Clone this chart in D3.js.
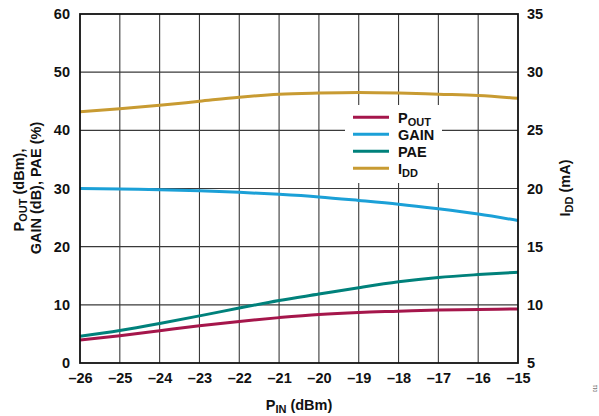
<!DOCTYPE html>
<html><head><meta charset="utf-8">
<script src="https://cdn.jsdelivr.net/npm/d3@7"></script>
<style>html,body{margin:0;padding:0;background:#fff;} svg{display:block;font-family:"Liberation Sans",Arial,sans-serif;font-weight:bold;}</style>
</head><body><svg id="c" width="599" height="416"></svg>
<script>
const pin = [-26,-25,-24,-23,-22,-21,-20,-19,-18,-17,-16,-15];
const pout = [3.95,4.7,5.55,6.4,7.15,7.8,8.35,8.7,8.9,9.1,9.2,9.3];
const gain = [30.0,29.9,29.8,29.6,29.35,29.0,28.55,27.95,27.3,26.5,25.6,24.5];
const pae = [4.6,5.6,6.8,8.1,9.45,10.75,11.85,12.95,13.95,14.7,15.2,15.6];
const idd = [26.6,26.85,27.15,27.5,27.85,28.1,28.2,28.25,28.2,28.1,28.0,27.75];
const leftTicks = [0,10,20,30,40,50,60];
const rightTicks = [5,10,15,20,25,30,35];
const xTicks = [-26,-25,-24,-23,-22,-21,-20,-19,-18,-17,-16,-15];
const colors = {pout:"#a5164b", gain:"#1ba0d7", pae:"#00817b", idd:"#c89b32"};

const svg = d3.select("#c");
const L=80,R=518,T=14,B=363;
const x = d3.scaleLinear().domain([-26,-15]).range([L,R]);
const yL = d3.scaleLinear().domain([0,60]).range([B,T]);
const yR = d3.scaleLinear().domain([5,35]).range([B,T]);

// grid
const g = svg.append("g");
g.selectAll(".vx").data(xTicks.slice(1,-1)).join("line")
  .attr("x1",d=>x(d)).attr("x2",d=>x(d)).attr("y1",T).attr("y2",B)
  .attr("stroke","#3a3a3a").attr("stroke-width",1.1);
g.selectAll(".hy").data(leftTicks.slice(1,-1)).join("line")
  .attr("y1",d=>yL(d)).attr("y2",d=>yL(d)).attr("x1",L).attr("x2",R)
  .attr("stroke","#3a3a3a").attr("stroke-width",1.1);

// legend background
svg.append("rect").attr("x",345).attr("y",105).attr("width",97).attr("height",78).attr("fill","#fff");

// lines
const series = [
  {k:"idd", v:idd, s:yR},
  {k:"gain", v:gain, s:yL},
  {k:"pae", v:pae, s:yL},
  {k:"pout", v:pout, s:yL}
];
series.forEach(se=>{
  const line = d3.line().x((d,i)=>x(pin[i])).y(d=>se.s(d)).curve(d3.curveMonotoneX);
  svg.append("path").datum(se.v).attr("d",line).attr("fill","none")
    .attr("stroke",colors[se.k]).attr("stroke-width",3);
});

// frame
svg.append("rect").attr("x",L).attr("y",T).attr("width",R-L).attr("height",B-T)
  .attr("fill","none").attr("stroke","#111").attr("stroke-width",1.8);

// axes labels
const fs = 14.5;
const axL = d3.axisLeft(yL).tickValues(leftTicks).tickSize(0).tickPadding(10).tickFormat(d3.format("d"));
const gl = svg.append("g").attr("transform",`translate(${L},0)`).call(axL);
const axR = d3.axisRight(yR).tickValues(rightTicks).tickSize(0).tickPadding(9).tickFormat(d3.format("d"));
const gr = svg.append("g").attr("transform",`translate(${R},0)`).call(axR);
const axB = d3.axisBottom(x).tickValues(xTicks).tickSize(0).tickPadding(10).tickFormat(d=>"\u2013"+Math.abs(d));
const gb = svg.append("g").attr("transform",`translate(0,${B})`).call(axB);
[gl,gr,gb].forEach(a=>{
  a.select(".domain").remove();
  a.selectAll("text").attr("font-size",fs).attr("font-weight","bold")
    .attr("font-family","'Liberation Sans',Arial,sans-serif").attr("fill","#111");
});

function subText(sel, parts){
  parts.forEach(p=>{
    const t = sel.append("tspan").text(p[0]);
    if(p[1]==="sub") t.attr("font-size",11).attr("dy",3);
    else if(p[1]==="up") t.attr("dy",-3);
  });
}
// legend
const leg = [["pout",[["P"],["OUT","sub"]]],["gain",[["GAIN"]]],["pae",[["PAE"]]],["idd",[["I"],["DD","sub"]]]];
leg.forEach((l,i)=>{
  const yy = 117.3 + i*17;
  svg.append("line").attr("x1",353).attr("x2",389).attr("y1",yy).attr("y2",yy)
    .attr("stroke",colors[l[0]]).attr("stroke-width",3);
  const t = svg.append("text").attr("x",398).attr("y",yy+5.2).attr("font-size",fs).attr("fill","#111");
  subText(t,l[1]);
});

// x title
const xt = svg.append("text").attr("x",299).attr("y",410).attr("text-anchor","middle").attr("font-size",fs).attr("fill","#111");
subText(xt,[["P"],["IN","sub"],[" (dBm)","up"]]);

// left title
const lt1 = svg.append("text").attr("transform","translate(24,190) rotate(-90)").attr("text-anchor","middle").attr("font-size",fs).attr("fill","#111");
subText(lt1,[["P"],["OUT","sub"],[" (dBm),","up"]]);
const lt2 = svg.append("text").attr("transform","translate(41,188) rotate(-90)").attr("text-anchor","middle").attr("font-size",fs).attr("fill","#111");
subText(lt2,[["GAIN (dB), PAE (%)"]]);

// right title
const rt = svg.append("text").attr("transform","translate(570,188) rotate(-90)").attr("text-anchor","middle").attr("font-size",fs).attr("fill","#111");
subText(rt,[["I"],["DD","sub"],[" (mA)","up"]]);

// figure id
svg.append("text").attr("transform","translate(597,392) rotate(-90)").attr("font-size",4.5).attr("font-weight","normal").attr("fill","#444").text("011");
</script></body></html>
